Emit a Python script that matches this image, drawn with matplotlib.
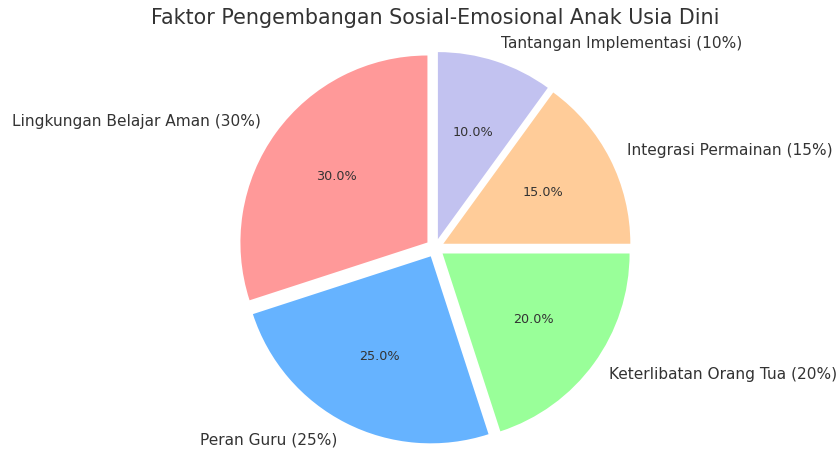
import matplotlib.pyplot as plt

# data
labels = ["Lingkungan Belajar Aman (30%)", "Peran Guru (25%)",
          "Keterlibatan Orang Tua (20%)", "Integrasi Permainan (15%)",
          "Tantangan Implementasi (10%)"]
sizes = [30, 25, 20, 15, 10]
colors = ["#ff9999", "#66b3ff", "#99ff99", "#ffcc99", "#c2c2f0"]
explode = [0.05, 0.05, 0.05, 0.05, 0.05]

fig = plt.figure(figsize=(8.4, 4.5), dpi=100)
ax = fig.add_axes([0, 0, 1, 1])

wedges, texts, autotexts = ax.pie(sizes, labels=labels, colors=colors,
                                  explode=explode, autopct="%1.1f%%",
                                  startangle=90, labeldistance=1.1,
                                  textprops={"color": "#333333", "fontsize": 11.1})
for t in autotexts:
    t.set_fontsize(9.2)

# place the pie: radius ~187 px, centre at (435, 248) from top-left
r = 187.0
ax.set_aspect("auto")
ax.set_xlim(-435 / r, (840 - 435) / r)
ax.set_ylim(-(450 - 248) / r, 248 / r)
ax.axis("off")

fig.text(435 / 840, 1 - 18 / 450, "Faktor Pengembangan Sosial-Emosional Anak Usia Dini",
         ha="center", va="center", fontsize=14.9, color="#333333")

fig.savefig("out.png", dpi=100)
